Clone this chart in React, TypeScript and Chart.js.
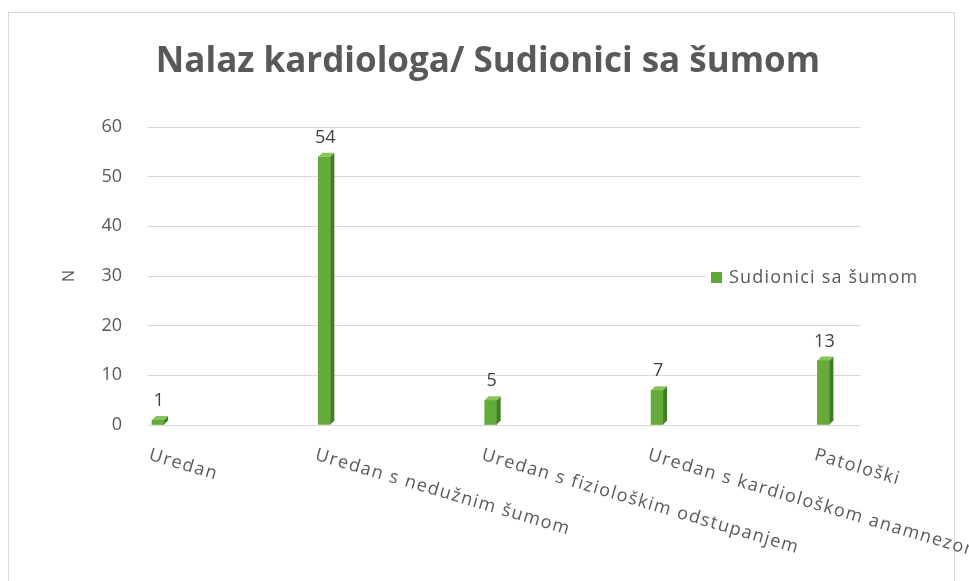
import React, { useEffect, useRef } from "react";
import { Chart, registerables } from "chart.js";

Chart.register(...registerables);

const title = "Nalaz kardiologa/ Sudionici sa šumom";
const categories = [
  "Uredan",
  "Uredan s nedužnim šumom",
  "Uredan s fiziološkim odstupanjem",
  "Uredan s kardiološkom anamnezom",
  "Patološki",
];
const seriesName = "Sudionici sa šumom";
const values = [1, 54, 5, 7, 13];
const yTicks = [0, 10, 20, 30, 40, 50, 60];
const yTitle = "N";

const FONT = "'Open Sans', 'Noto Sans', sans-serif";
const TEXT = "#595959";
const GREEN = "#65ab3b";
const GREEN_SIDE = "#3f7d22";
const GREEN_TOP = "#86c55a";

const framePlugin = {
  id: "frame",
  beforeDraw(chart: any) {
    const ctx = chart.ctx;
    ctx.save();
    ctx.fillStyle = "#ffffff";
    ctx.fillRect(0, 0, chart.width, chart.height);
    ctx.strokeStyle = "#d9d9d9";
    ctx.lineWidth = 1;
    ctx.strokeRect(8.5, 12.5, 946, chart.height + 20);
    // title
    ctx.fillStyle = TEXT;
    ctx.font = `bold 35px ${FONT}`;
    ctx.textAlign = "center";
    ctx.textBaseline = "middle";
    ctx.fillText(title, 488, 62);
    ctx.restore();
  },
};

const barDecorPlugin = {
  id: "barDecor",
  afterDatasetsDraw(chart: any) {
    const ctx = chart.ctx;
    const meta = chart.getDatasetMeta(0);
    const d = 4;
    ctx.save();
    meta.data.forEach((bar: any, i: number) => {
      const { x, y, base, width } = bar.getProps(["x", "y", "base", "width"], true);
      const l = x - width / 2;
      const r = x + width / 2;
      ctx.fillStyle = GREEN_SIDE;
      ctx.beginPath();
      ctx.moveTo(r, y);
      ctx.lineTo(r + d, y - d);
      ctx.lineTo(r + d, base - d);
      ctx.lineTo(r, base);
      ctx.closePath();
      ctx.fill();
      ctx.fillStyle = GREEN_TOP;
      ctx.beginPath();
      ctx.moveTo(l, y);
      ctx.lineTo(l + d, y - d);
      ctx.lineTo(r + d, y - d);
      ctx.lineTo(r, y);
      ctx.closePath();
      ctx.fill();
      ctx.fillStyle = "#404040";
      ctx.font = `18px ${FONT}`;
      ctx.textAlign = "center";
      ctx.textBaseline = "bottom";
      ctx.fillText(String(values[i]), x + 1, y - 10);
    });
    ctx.restore();
  },
};

const xLabelPlugin = {
  id: "xLabels",
  afterDraw(chart: any) {
    const ctx = chart.ctx;
    const xs = chart.scales.x;
    const top = chart.chartArea.bottom + 21;
    ctx.save();
    ctx.fillStyle = TEXT;
    ctx.font = `18px ${FONT}`;
    (ctx as any).letterSpacing = "1.4px";
    ctx.textAlign = "left";
    ctx.textBaseline = "top";
    categories.forEach((c, i) => {
      const x = xs.getPixelForValue(i) - 6;
      ctx.save();
      ctx.translate(x, top);
      ctx.rotate((16.5 * Math.PI) / 180);
      ctx.fillText(c, 0, 0);
      ctx.restore();
    });
    ctx.restore();
  },
};

const legendPlugin = {
  id: "customLegend",
  afterDraw(chart: any) {
    const ctx = chart.ctx;
    const cy = (chart.chartArea.top + chart.chartArea.bottom) / 2 + 2;
    ctx.save();
    ctx.font = `18px ${FONT}`;
    (ctx as any).letterSpacing = "1.2px";
    const w = ctx.measureText(seriesName).width;
    ctx.fillStyle = "#ffffff";
    ctx.fillRect(706, cy - 13, w + 30, 26);
    ctx.fillStyle = "#5ea836";
    ctx.fillRect(711, cy - 6, 11, 11);
    ctx.fillStyle = TEXT;
    ctx.textAlign = "left";
    ctx.textBaseline = "middle";
    ctx.fillText(seriesName, 729, cy);
    ctx.restore();
  },
};

export default function App() {
  const ref = useRef<HTMLCanvasElement>(null);
  useEffect(() => {
    document.body.style.margin = "0";
    const canvas = ref.current!;
    const chart = new Chart(canvas, {
      type: "bar",
      data: {
        datasets: [
          {
            label: seriesName,
            data: values.map((v, i) => ({ x: i, y: v })),
            backgroundColor: GREEN,
            borderWidth: 0,
            barThickness: 12,
          },
        ],
      },
      options: {
        responsive: false,
        animation: false,
        layout: { padding: { left: 60, right: 109, top: 127, bottom: 156 } },
        plugins: {
          legend: { display: false },
          tooltip: { enabled: false },
          title: { display: false },
        },
        scales: {
          x: {
            type: "linear",
            display: false,
            offset: false,
            min: -0.06,
            max: 4.22,
          },
          y: {
            min: 0,
            max: 60,
            afterFit(scale: any) {
              scale.width = 88;
            },
            afterBuildTicks(scale: any) {
              scale.ticks = yTicks.map((v) => ({ value: v }));
            },
            ticks: {
              color: TEXT,
              font: { family: FONT, size: 18 },
              padding: 26,
            },
            grid: { color: "#d9d9d9", drawTicks: false },
            border: { display: false },
            title: {
              display: true,
              text: yTitle,
              color: TEXT,
              font: { family: FONT, size: 16 },
              padding: 0,
            },
          },
        },
      },
      plugins: [framePlugin, barDecorPlugin, xLabelPlugin, legendPlugin],
    } as any);
    return () => chart.destroy();
  }, []);
  return <canvas ref={ref} width={969} height={581} />;
}
